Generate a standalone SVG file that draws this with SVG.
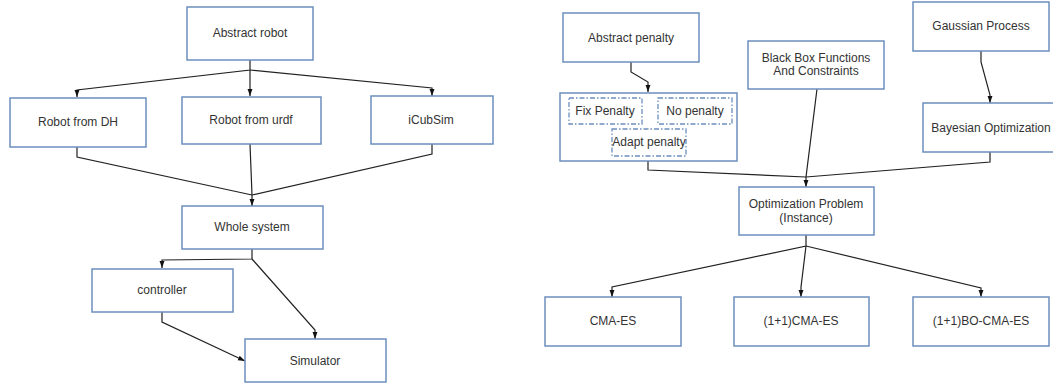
<svg xmlns="http://www.w3.org/2000/svg" width="1053" height="383" viewBox="0 0 1053 383">
<style>
.box{fill:#fff;stroke:#6c8ebf;stroke-width:1.5}
.dash{fill:#fff;stroke:#6c8ebf;stroke-width:1.3;stroke-dasharray:5 2 1.5 2}
text{font-family:"Liberation Sans",Arial,sans-serif;font-size:12px;fill:#333;text-anchor:middle;dominant-baseline:central}
.c{fill:none;stroke:#222;stroke-width:1.2}
</style>
<defs>
<marker id="a" viewBox="0 0 10 10" refX="10" refY="5" markerWidth="7" markerHeight="7" orient="auto" markerUnits="userSpaceOnUse">
<path d="M0,1.5 L10,5 L0,8.5 Z" fill="#111"/>
</marker>
</defs>
<rect width="1053" height="383" fill="#fff"/>
<g id="connectors">
<polyline class="c" points="250,60 250,70 77,90 77,97" marker-end="url(#a)"/>
<polyline class="c" points="250,70 250,96" marker-end="url(#a)"/>
<polyline class="c" points="250,70 432,88 432,96" marker-end="url(#a)"/>
<polyline class="c" points="77,147 77,157 252,195" />
<polyline class="c" points="432,144 432,154 252,195" />
<polyline class="c" points="250,144 252,195 252,206" marker-end="url(#a)"/>
<polyline class="c" points="252,249 252,259 162,260 162,268" marker-end="url(#a)"/>
<polyline class="c" points="252,259 315,330 315,339" marker-end="url(#a)"/>
<polyline class="c" points="162,312 162,322 245,361" marker-end="url(#a)"/>
<polyline class="c" points="631,62 631,72 648,82 648,92" marker-end="url(#a)"/>
<polyline class="c" points="981,51 981,62 990,95 990,103" marker-end="url(#a)"/>
<polyline class="c" points="648,161 648,170 806,177" />
<polyline class="c" points="990,152 990,162 806,177" />
<polyline class="c" points="817,89 806,177 806,187" marker-end="url(#a)"/>
<polyline class="c" points="806,235 806,246 612,287 612,297" marker-end="url(#a)"/>
<polyline class="c" points="806,246 801,287 801,297" marker-end="url(#a)"/>
<polyline class="c" points="806,246 981,288 981,297" marker-end="url(#a)"/>
</g>
<g id="abstract-robot"><rect class="box" x="187" y="7" width="126" height="53"/><text x="250" y="33">Abstract robot</text></g>
<g id="robot-dh"><rect class="box" x="10" y="98" width="136" height="49"/><text x="78" y="122">Robot from DH</text></g>
<g id="robot-urdf"><rect class="box" x="182" y="97" width="139" height="47"/><text x="251" y="120">Robot from urdf</text></g>
<g id="icubsim"><rect class="box" x="371" y="96" width="122" height="48"/><text x="431" y="120">iCubSim</text></g>
<g id="whole-system"><rect class="box" x="182" y="206" width="141" height="43"/><text x="252" y="227">Whole system</text></g>
<g id="controller"><rect class="box" x="92" y="269" width="141" height="43"/><text x="162" y="290">controller</text></g>
<g id="simulator"><rect class="box" x="245" y="339" width="141" height="43"/><text x="315" y="361">Simulator</text></g>
<g id="abstract-penalty"><rect class="box" x="563" y="13" width="136" height="49"/><text x="631" y="38">Abstract penalty</text></g>
<g id="penalties"><rect class="box" x="560" y="93" width="177" height="68"/>
<g id="fix-penalty"><rect class="dash" x="569" y="98" width="73" height="26"/><text x="605" y="111">Fix Penalty</text></g>
<g id="no-penalty"><rect class="dash" x="658" y="98" width="74" height="26"/><text x="695" y="111">No penalty</text></g>
<g id="adapt-penalty"><rect class="dash" x="612" y="129" width="74" height="27"/><text x="649" y="142">Adapt penalty</text></g>
</g>
<g id="black-box"><rect class="box" x="748" y="41" width="136" height="48"/><text x="816" y="58">Black Box Functions</text><text x="816" y="71">And Constraints</text></g>
<g id="gaussian-process"><rect class="box" x="913" y="2" width="136" height="49"/><text x="981" y="26">Gaussian Process</text></g>
<g id="bayesian-opt"><rect class="box" x="923" y="103" width="136" height="49"/><text x="991" y="128">Bayesian Optimization</text></g>
<g id="opt-problem"><rect class="box" x="739" y="187" width="135" height="48"/><text x="806" y="204">Optimization Problem</text><text x="806" y="218">(Instance)</text></g>
<g id="cma-es"><rect class="box" x="545" y="297" width="136" height="49"/><text x="613" y="321">CMA-ES</text></g>
<g id="oneplusone-cma-es"><rect class="box" x="734" y="297" width="135" height="49"/><text x="801" y="321">(1+1)CMA-ES</text></g>
<g id="bo-cma-es"><rect class="box" x="913" y="297" width="136" height="49"/><text x="981" y="321">(1+1)BO-CMA-ES</text></g>
</svg>
